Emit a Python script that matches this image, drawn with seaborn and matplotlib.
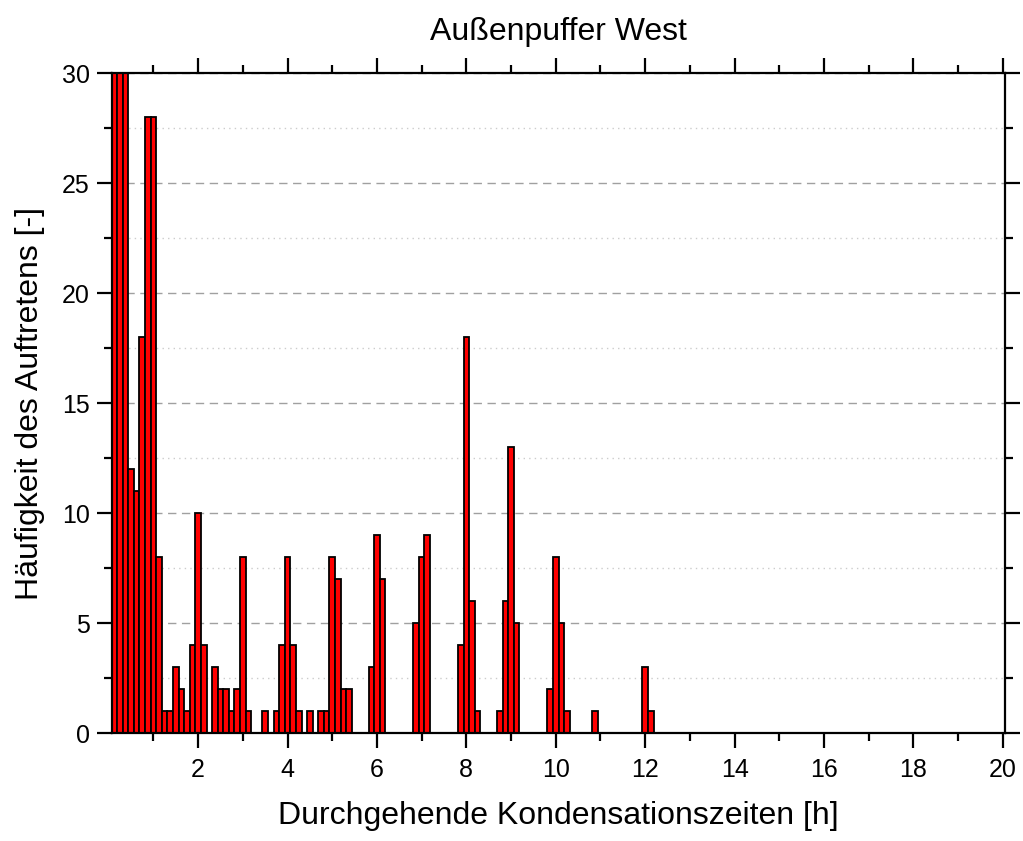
"""
Häufigkeit durchgehender Kondensationszeiten, Außenpuffer West.
"""

import matplotlib
matplotlib.use("Agg")
import matplotlib.pyplot as plt
from matplotlib.ticker import MultipleLocator
import seaborn as sns

BIN_WIDTH = 0.125  # h (7.5 min)

# bin centres [h] with a non-zero count
hours = [
    0.125, 0.25, 0.375, 0.5, 0.625, 0.75, 0.875, 1.0, 1.125, 1.25, 1.375,
    1.5, 1.625, 1.75, 1.875, 2.0, 2.125,
    2.375, 2.5, 2.625, 2.75, 2.875, 3.0, 3.125,
    3.5, 3.75, 3.875, 4.0, 4.125, 4.25,
    4.5, 4.75, 4.875, 5.0, 5.125, 5.25, 5.375,
    5.875, 6.0, 6.125,
    6.875, 7.0, 7.125,
    7.875, 8.0, 8.125, 8.25,
    8.75, 8.875, 9.0, 9.125,
    9.875, 10.0, 10.125, 10.25,
    10.875,
    12.0, 12.125,
]
counts = [
    30, 30, 30, 12, 11, 18, 28, 28, 8, 1, 1,
    3, 2, 1, 4, 10, 4,
    3, 2, 2, 1, 2, 8, 1,
    1, 1, 4, 8, 4, 1,
    1, 1, 1, 8, 7, 2, 2,
    3, 9, 7,
    5, 8, 9,
    4, 18, 6, 1,
    1, 6, 13, 5,
    2, 8, 5, 1,
    1,
    3, 1,
]

X_TICKS = [2, 4, 6, 8, 10, 12, 14, 16, 18, 20]
Y_TICKS = [0, 5, 10, 15, 20, 25, 30]

TITLE = "Außenpuffer West"
XLABEL = "Durchgehende Kondensationszeiten [h]"
YLABEL = "Häufigkeit des Auftretens [-]"


def main():
    sns.set_style("white")
    plt.rcParams["font.family"] = ["Liberation Sans", "DejaVu Sans"]
    for key in ("text.color", "axes.labelcolor", "xtick.color", "ytick.color"):
        plt.rcParams[key] = "black"

    fig = plt.figure(figsize=(10.23, 8.41), dpi=100)
    ax = fig.add_axes([0.109, 0.128, 0.873, 0.785])

    sns.histplot(
        x=hours, weights=counts, binwidth=BIN_WIDTH,
        binrange=(BIN_WIDTH / 2, max(hours) + BIN_WIDTH / 2),
        color="#ff0000", edgecolor="black", linewidth=1.3, alpha=1,
        ax=ax,
    )

    ax.set_xlim(BIN_WIDTH / 2, 20.04)
    ax.set_ylim(0, 30)
    ax.set_xticks(X_TICKS)
    ax.set_yticks(Y_TICKS)
    ax.xaxis.set_minor_locator(MultipleLocator(1))
    ax.yaxis.set_minor_locator(MultipleLocator(2.5))

    ax.set_axisbelow(True)
    ax.grid(axis="y", which="major", color="#a0a0a0", linestyle=(0, (6, 4)), linewidth=1)
    ax.grid(axis="y", which="minor", color="#cccccc", linestyle=(0, (1, 3)), linewidth=1)
    ax.grid(axis="x", which="both", visible=False)

    for sp in ax.spines.values():
        sp.set_visible(True)
        sp.set_linewidth(1.6)
        sp.set_color("black")

    ax.tick_params(which="both", direction="out", top=True, right=True,
                   bottom=True, left=True, color="black", width=1.6)
    ax.tick_params(which="major", length=10.5, labelsize=18)
    ax.tick_params(axis="x", which="major", pad=7)
    ax.tick_params(axis="y", which="major", pad=5)
    ax.tick_params(which="minor", length=6)

    ax.set_title(TITLE, fontsize=23, pad=24)
    ax.set_xlabel(XLABEL, fontsize=23, labelpad=14)
    ax.set_ylabel(YLABEL, fontsize=23, labelpad=12)

    plt.savefig("out.png", dpi=100)
    plt.close()


if __name__ == "__main__":
    main()
